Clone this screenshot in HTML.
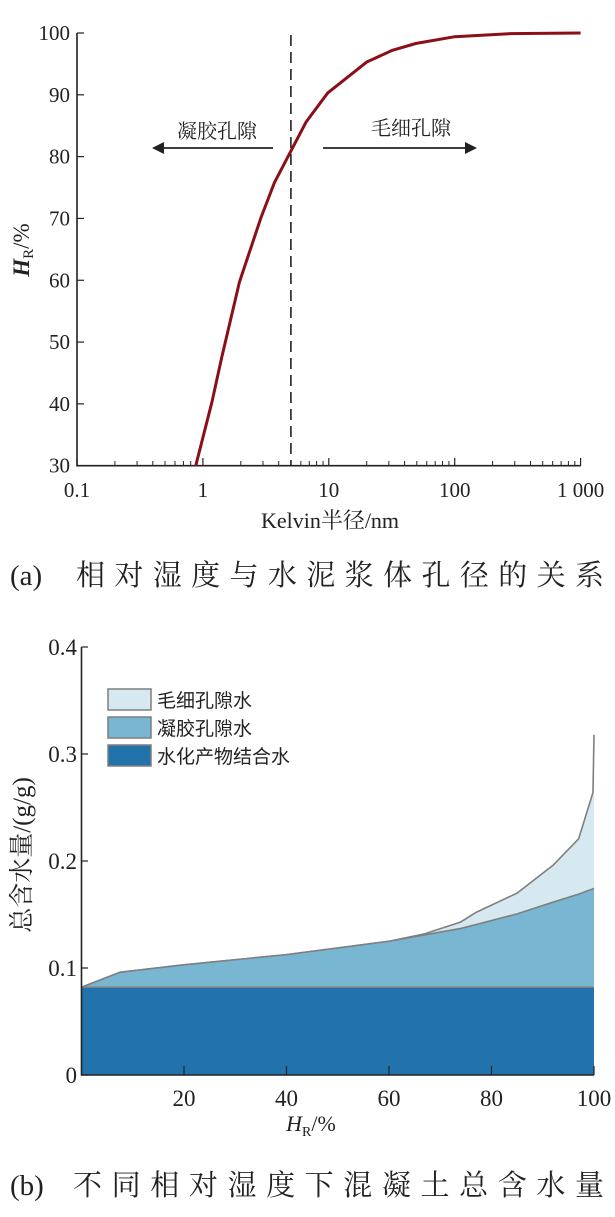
<!DOCTYPE html>
<html><head><meta charset="utf-8"><style>
body{margin:0;background:#fff;}
svg{display:block;font-family:"Liberation Serif","Noto Serif CJK SC",serif;}
</style></head><body>
<svg width="615" height="1217" viewBox="0 0 615 1217" xmlns="http://www.w3.org/2000/svg">
<g id="top"></g>
<g id="bot"></g>
<text y="585" font-size="29" fill="#222"><tspan x="10">(a)</tspan></text>
<text x="76" y="585" font-size="29" fill="#222" textLength="528" lengthAdjust="spacing">相对湿度与水泥浆体孔径的关系</text>
<text y="1195" font-size="29" fill="#222"><tspan x="10">(b)</tspan></text>
<text x="73" y="1195" font-size="29" fill="#222" textLength="531" lengthAdjust="spacing">不同相对湿度下混凝土总含水量</text>
</svg>
<script>
// ---- chart (a) data ----
const radiusNm = [0.877,1.18,1.41,1.95,2.9,3.7,4.97,6.6,9.8,20,32,49,100,277,1000];
const hrPct    = [30,40.3,47.5,59.7,70.2,75.8,80.8,85.6,90.3,95.3,97.2,98.3,99.4,99.9,100];
const xTicksA  = ["0.1","1","10","100","1 000"];
const yTicksA  = [30,40,50,60,70,80,90,100];
const boundaryNm = 5;
// ---- chart (b) data ----
const hrB      = [0,7.5,20,40,60,67,74,77,85,92,97,99.8,100];
const hydrate  = [0.082,0.082,0.082,0.082,0.082,0.082,0.082,0.082,0.082,0.082,0.082,0.082,0.082];
const gelTop   = [0.082,0.096,0.103,0.1125,0.125,0.131,0.137,0.1406,0.1506,0.1615,0.169,0.174,0.1746];
const totalTop = [0.082,0.096,0.103,0.1125,0.125,0.132,0.143,0.152,0.170,0.196,0.2207,0.264,0.318];
const xTicksB  = [20,40,60,80,100];
const yTicksB  = [0,0.1,0.2,0.3,0.4];
const legendB  = ["毛细孔隙水","凝胶孔隙水","水化产物结合水"];

const NS="http://www.w3.org/2000/svg";
function mk(p,t,a,txt){const e=document.createElementNS(NS,t);for(const k in a)e.setAttribute(k,a[k]);if(txt!==undefined)e.textContent=txt;p.appendChild(e);return e;}

// chart a
const A=document.getElementById('top');
const ax=v=>77+(Math.log10(v)+1)*125.9, ay=v=>465.7-(v-30)/70*432.7;
let e;
e=mk(A,'path',{d:`M77,33 V465.7 H580.7`,stroke:'#222','stroke-width':1.6,fill:'none'});


for(let d=-1;d<3;d++)for(let m=2;m<10;m++){const x=ax(m*Math.pow(10,d));
 e=mk(A,'line',{x1:x,x2:x,y1:465.7,y2:461,stroke:'#222','stroke-width':1});
 
 }
xTicksA.forEach((t,i)=>{const x=ax(Math.pow(10,i-1));
 e=mk(A,'line',{x1:x,x2:x,y1:465.7,y2:458,stroke:'#222','stroke-width':1.2});
 
 
 e=mk(A,'text',{x:x,y:497,'font-size':21,'text-anchor':'middle',fill:'#222'},t);
 
 });
yTicksA.forEach(t=>{const y=ay(t);
 e=mk(A,'line',{x1:77,x2:84,y1:y,y2:y,stroke:'#222','stroke-width':1.2});
 
 
 e=mk(A,'text',{x:70,y:y+7,'font-size':21,'text-anchor':'end',fill:'#222'},t);
 
 });
e=mk(A,'text',{x:330,y:528,'font-size':22,'text-anchor':'middle',fill:'#222'},'Kelvin半径/nm');


e=mk(A,'text',{transform:'translate(29,250) rotate(-90)','font-size':23,'text-anchor':'middle',fill:'#222'});


e.innerHTML='<tspan font-style="italic" font-weight="bold">H</tspan><tspan font-size="15" dy="4">R</tspan><tspan dy="-4">/%</tspan>';
const bx=ax(boundaryNm);
e=mk(A,'line',{x1:bx,x2:bx,y1:35,y2:465,stroke:'#222','stroke-width':1.6,'stroke-dasharray':'11,6'});


e=mk(A,'polyline',{points:radiusNm.map((r,i)=>ax(r)+','+ay(hrPct[i])).join(' '),fill:'none',stroke:'#8b0f17','stroke-width':3});


e=mk(A,'path',{d:'M273,148 H160',stroke:'#222','stroke-width':1.8});


e=mk(A,'path',{d:'M152,148 L164,142 L164,154 Z',fill:'#222'});


e=mk(A,'path',{d:'M323,148 H468',stroke:'#222','stroke-width':1.8});


e=mk(A,'path',{d:'M477,148 L465,142 L465,154 Z',fill:'#222'});


e=mk(A,'text',{x:217,y:138,'font-size':20,'text-anchor':'middle',fill:'#222'},'凝胶孔隙');


e=mk(A,'text',{x:411,y:135,'font-size':20,'text-anchor':'middle',fill:'#222'},'毛细孔隙');



// chart b
const B=document.getElementById('bot');
const bxs=v=>81.5+v*5.125, bys=v=>1075-v*1070;
function area(top,base,fill,name){
 const pts=hrB.map((h,i)=>bxs(h)+','+bys(top[i])).concat(hrB.slice().reverse().map((h,j)=>bxs(h)+','+bys(base[hrB.length-1-j])));
 const el=mk(B,'polygon',{points:pts.join(' '),fill:fill,stroke:'none'});
 
 
 const ln=mk(B,'polyline',{points:hrB.map((h,i)=>bxs(h)+','+bys(top[i])).join(' '),fill:'none',stroke:'#7f7f7f','stroke-width':1.6});
 
 
}
const zero=hrB.map(()=>0);
area(totalTop,gelTop,'#d6e9f0','capillary-water-area');
area(gelTop,hydrate,'#79b6d2','gel-water-area');
area(hydrate,zero,'#2273ab','hydrate-water-area');
e=mk(B,'path',{d:'M81.5,647 V1075 H594',stroke:'#222','stroke-width':1.6,fill:'none'});


yTicksB.forEach(t=>{const y=bys(t);
 e=mk(B,'line',{x1:81.5,x2:88,y1:y,y2:y,stroke:'#222','stroke-width':1.2});
 
 
 e=mk(B,'text',{x:77,y:y+8,'font-size':23,'text-anchor':'end',fill:'#222'},String(t));
 
 });
xTicksB.forEach(t=>{const x=bxs(t);
 e=mk(B,'line',{x1:x,x2:x,y1:1075,y2:1066,stroke:'#222','stroke-width':1.2});
 
 
 e=mk(B,'text',{x:x,y:1106,'font-size':23,'text-anchor':'middle',fill:'#222'},String(t));
 
 });
e=mk(B,'text',{x:311,y:1131,'font-size':22,'text-anchor':'middle',fill:'#222'});


e.innerHTML='<tspan font-style="italic">H</tspan><tspan font-size="14" dy="5">R</tspan><tspan dy="-5">/%</tspan>';
e=mk(B,'text',{transform:'translate(30,855) rotate(-90)','font-size':25,'text-anchor':'middle',fill:'#222'},'总含水量/(g/g)');


const lc=['#d6e9f0','#79b6d2','#2273ab'];
legendB.forEach((t,i)=>{const y=689+i*28;
 e=mk(B,'rect',{x:108,y:y,width:43,height:21,fill:lc[i],stroke:'#7f7f7f','stroke-width':1.5});
 
 
 e=mk(B,'text',{x:157,y:y+18,'font-size':19,fill:'#222','font-family':'"Liberation Sans","Noto Sans CJK SC",sans-serif'},t);
 
 });
</script>
</body></html>
